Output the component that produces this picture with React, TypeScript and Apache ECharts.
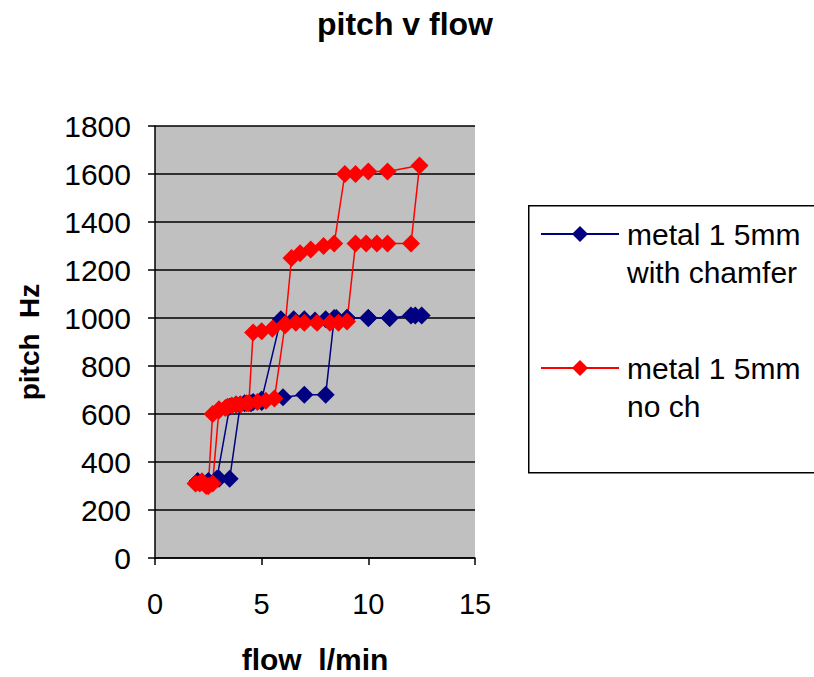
import React, { useEffect, useRef } from "react";
import * as echarts from "echarts";

const chamferName = "metal 1 5mm\nwith chamfer";
const noChName = "metal 1 5mm\nno ch";

const chamferFlow = [2.0, 2.5, 2.9, 3.5, 3.8, 4.2, 4.6, 5.0, 5.9, 6.5, 7.0, 7.5, 8.0, 8.5, 9.0, 10.0, 11.0, 12.0, 12.5, 12.2, 11.0, 10.0, 9.0, 8.4, 8.0, 7.0, 6.0, 5.0, 4.5, 4.0, 3.5, 3.0, 2.5, 2.0];
const chamferPitch = [320, 320, 330, 630, 640, 645, 650, 660, 995, 995, 995, 990, 995, 1000, 1000, 1000, 1000, 1010, 1010, 1010, 1000, 1000, 1000, 1000, 680, 680, 670, 650, 645, 640, 330, 330, 320, 320];

const noChFlow = [1.9, 2.2, 2.5, 2.7, 3.0, 3.3, 3.6, 4.0, 4.4, 4.6, 5.0, 5.5, 6.1, 6.4, 6.8, 7.3, 7.9, 8.4, 8.9, 9.4, 10.0, 10.9, 12.4, 12.0, 10.9, 10.4, 9.9, 9.4, 9.0, 8.6, 8.2, 7.6, 7.0, 6.6, 6.1, 5.6, 5.2, 4.8, 4.3, 3.8, 3.4, 3.0, 2.7, 2.4, 2.1];
const noChPitch = [310, 320, 300, 600, 615, 625, 635, 640, 645, 940, 945, 955, 970, 1250, 1270, 1285, 1300, 1310, 1600, 1600, 1610, 1610, 1635, 1310, 1310, 1310, 1310, 1310, 985, 980, 980, 980, 980, 980, 975, 665, 655, 650, 645, 640, 630, 620, 310, 300, 310];

const xTicks = { min: 0, max: 15, interval: 5 };
const yTicks = { min: 0, max: 1800, interval: 200 };

const pair = (xs: number[], ys: number[]) => xs.map((x, i) => [x, ys[i]]);

const FONT = "'Liberation Sans', Arial, sans-serif";

export default function App() {
  const ref = useRef<HTMLDivElement>(null);
  useEffect(() => {
    const chart = echarts.init(ref.current!, null, { renderer: "svg" });
    chart.setOption({
      animation: false,
      backgroundColor: "#ffffff",
      textStyle: { fontFamily: FONT },
      title: {
        text: "pitch v flow",
        left: 400,
        textAlign: "center",
        top: 3,
        textStyle: { fontSize: 32, fontWeight: "bold", color: "#000", fontFamily: FONT },
      },
      grid: {
        left: 155,
        width: 320,
        top: 126,
        height: 432,
        outerBoundsMode: "none",
        containLabel: false,
        show: true,
        backgroundColor: "#c0c0c0",
        borderWidth: 0,
      },
      graphic: [
        {
          type: "rect",
          left: 528,
          top: 205,
          shape: { width: 300, height: 267 },
          style: { fill: "#fff", stroke: "#000", lineWidth: 1.5 },
          z: -1,
        },
      ],
      legend: {
        orient: "vertical",
        left: 540,
        top: 177,
        padding: 0,
        itemWidth: 78,
        itemHeight: 20,
        itemGap: 20,
        data: [chamferName, noChName],
        formatter: (name: string) => " \n" + name,
        textStyle: {
          fontSize: 30,
          color: "#000",
          fontFamily: FONT,
          lineHeight: 38,
          padding: [0, 0, 0, 3],
        },
      },
      xAxis: {
        type: "value",
        min: xTicks.min,
        max: xTicks.max,
        interval: xTicks.interval,
        name: "flow  l/min",
        nameLocation: "middle",
        nameGap: 86,
        nameTextStyle: { fontSize: 30, fontWeight: "bold", color: "#000", fontFamily: FONT },
        axisLine: { lineStyle: { color: "#000", width: 1.5 } },
        axisTick: { inside: false, length: 7, lineStyle: { color: "#000", width: 1.5 } },
        axisLabel: { fontSize: 29, color: "#000", margin: 31, fontFamily: FONT },
        splitLine: { show: false },
      },
      yAxis: {
        type: "value",
        min: yTicks.min,
        max: yTicks.max,
        interval: yTicks.interval,
        name: "pitch  Hz",
        nameLocation: "middle",
        nameGap: 112,
        nameTextStyle: { fontSize: 28, fontWeight: "bold", color: "#000", fontFamily: FONT },
        axisLine: { show: true, lineStyle: { color: "#000", width: 1.5 } },
        axisTick: { show: true, inside: false, length: 7, lineStyle: { color: "#000", width: 1.5 } },
        axisLabel: {
          fontSize: 30,
          color: "#000",
          margin: 24,
          fontFamily: FONT,
          formatter: (v: number) => String(v),
        },
        splitLine: { show: true, lineStyle: { color: "#000", width: 1.5 } },
      },
      series: [
        {
          name: chamferName,
          type: "line",
          data: pair(chamferFlow, chamferPitch),
          symbol: "diamond",
          symbolSize: 18,
          itemStyle: { color: "#000080" },
          lineStyle: { color: "#000080", width: 1.5 },
        },
        {
          name: noChName,
          type: "line",
          data: pair(noChFlow, noChPitch),
          symbol: "diamond",
          symbolSize: 18,
          itemStyle: { color: "#ff0000" },
          lineStyle: { color: "#ff0000", width: 1.5 },
        },
      ],
    });
    return () => chart.dispose();
  }, []);
  return (
    <div
      ref={ref}
      style={{ position: "fixed", left: 0, top: 0, width: 814, height: 677, background: "#fff" }}
    />
  );
}
